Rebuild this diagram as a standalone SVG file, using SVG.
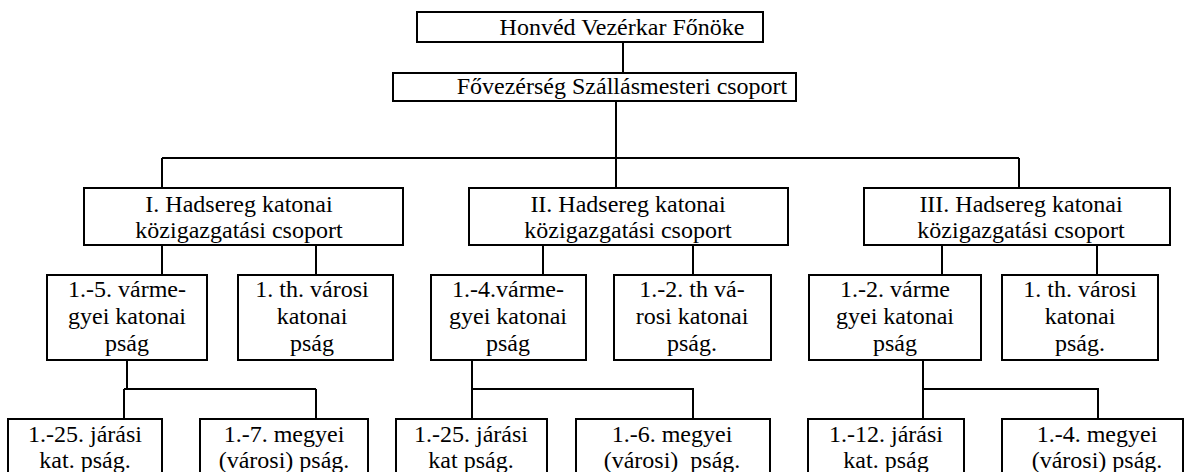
<svg xmlns="http://www.w3.org/2000/svg" width="1184" height="472" viewBox="0 0 1184 472">
<style>
rect{fill:#fff;stroke:#000;stroke-width:2}
text{font-family:"Liberation Serif","Times New Roman",serif;font-size:24px;fill:#000;text-anchor:middle}
#connectors path{fill:none;stroke:#000;stroke-width:2}
</style>
<rect x="0" y="0" width="1184" height="472" style="stroke:none"/>
<g id="connectors">
<path d="M623 42V73"/>
<path d="M616 101V188"/>
<path d="M162 158H1019M162 158V188M1019 158V188"/>
<path d="M162 245V275M316 245V275"/>
<path d="M543 245V275M693 245V275"/>
<path d="M942 245V275M1097 245V275"/>
<path d="M127 360V389M124 389H316M124 389V419M316 389V419"/>
<path d="M472 360V419M472 389H693V419"/>
<path d="M923 360V419M923 389H1098V419"/>
</g>
<g id="n-top"><rect x="417" y="12" width="346" height="30"/><text x="622" y="35">Honvéd Vezérkar Főnöke</text></g>
<g id="n-fo"><rect x="393" y="73" width="403" height="28"/><text x="622" y="94">Fővezérség Szállásmesteri csoport</text></g>
<g id="n-h1"><rect x="84" y="188" width="319" height="57"/><text x="239" y="212">I. Hadsereg katonai</text><text x="239" y="238">közigazgatási csoport</text></g>
<g id="n-h2"><rect x="469" y="188" width="319" height="57"/><text x="628" y="212">II. Hadsereg katonai</text><text x="628" y="238">közigazgatási csoport</text></g>
<g id="n-h3"><rect x="864" y="188" width="306" height="57"/><text x="1021" y="212">III. Hadsereg katonai</text><text x="1021" y="238">közigazgatási csoport</text></g>
<g id="n-v1"><rect x="47" y="275" width="160" height="85"/><text x="127" y="297">1.-5. várme-</text><text x="127" y="324">gyei katonai</text><text x="127" y="351">pság</text></g>
<g id="n-c1"><rect x="238" y="275" width="155" height="85"/><text x="312" y="297">1. th. városi</text><text x="312" y="324">katonai</text><text x="312" y="351">pság</text></g>
<g id="n-v2"><rect x="431" y="275" width="155" height="85"/><text x="508" y="297">1.-4.várme-</text><text x="508" y="324">gyei katonai</text><text x="508" y="351">pság</text></g>
<g id="n-c2"><rect x="614" y="275" width="157" height="85"/><text x="692" y="297">1.-2. th vá-</text><text x="692" y="324">rosi katonai</text><text x="692" y="351">pság.</text></g>
<g id="n-v3"><rect x="809" y="275" width="172" height="85"/><text x="895" y="297">1.-2. várme</text><text x="895" y="324">gyei katonai</text><text x="895" y="351">pság</text></g>
<g id="n-c3"><rect x="1002" y="275" width="156" height="85"/><text x="1080" y="297">1. th. városi</text><text x="1080" y="324">katonai</text><text x="1080" y="351">pság.</text></g>
<g id="n-j1"><rect x="8" y="419" width="154" height="60"/><text x="85" y="442">1.-25. járási</text><text x="85" y="468">kat. pság.</text></g>
<g id="n-m1"><rect x="200" y="419" width="168" height="60"/><text x="284" y="442">1.-7. megyei</text><text x="284" y="468">(városi) pság.</text></g>
<g id="n-j2"><rect x="396" y="419" width="151" height="60"/><text x="471" y="442">1.-25. járási</text><text x="471" y="468">kat pság.</text></g>
<g id="n-m2"><rect x="576" y="419" width="194" height="60"/><text x="672" y="442">1.-6. megyei</text><text x="672" y="468" style="white-space:pre">(városi)  pság.</text></g>
<g id="n-j3"><rect x="808" y="419" width="156" height="60"/><text x="886" y="442">1.-12. járási</text><text x="886" y="468">kat. pság</text></g>
<g id="n-m3"><rect x="1002" y="419" width="181" height="60"/><text x="1097" y="442">1.-4. megyei</text><text x="1097" y="468">(városi) pság.</text></g>
</svg>
